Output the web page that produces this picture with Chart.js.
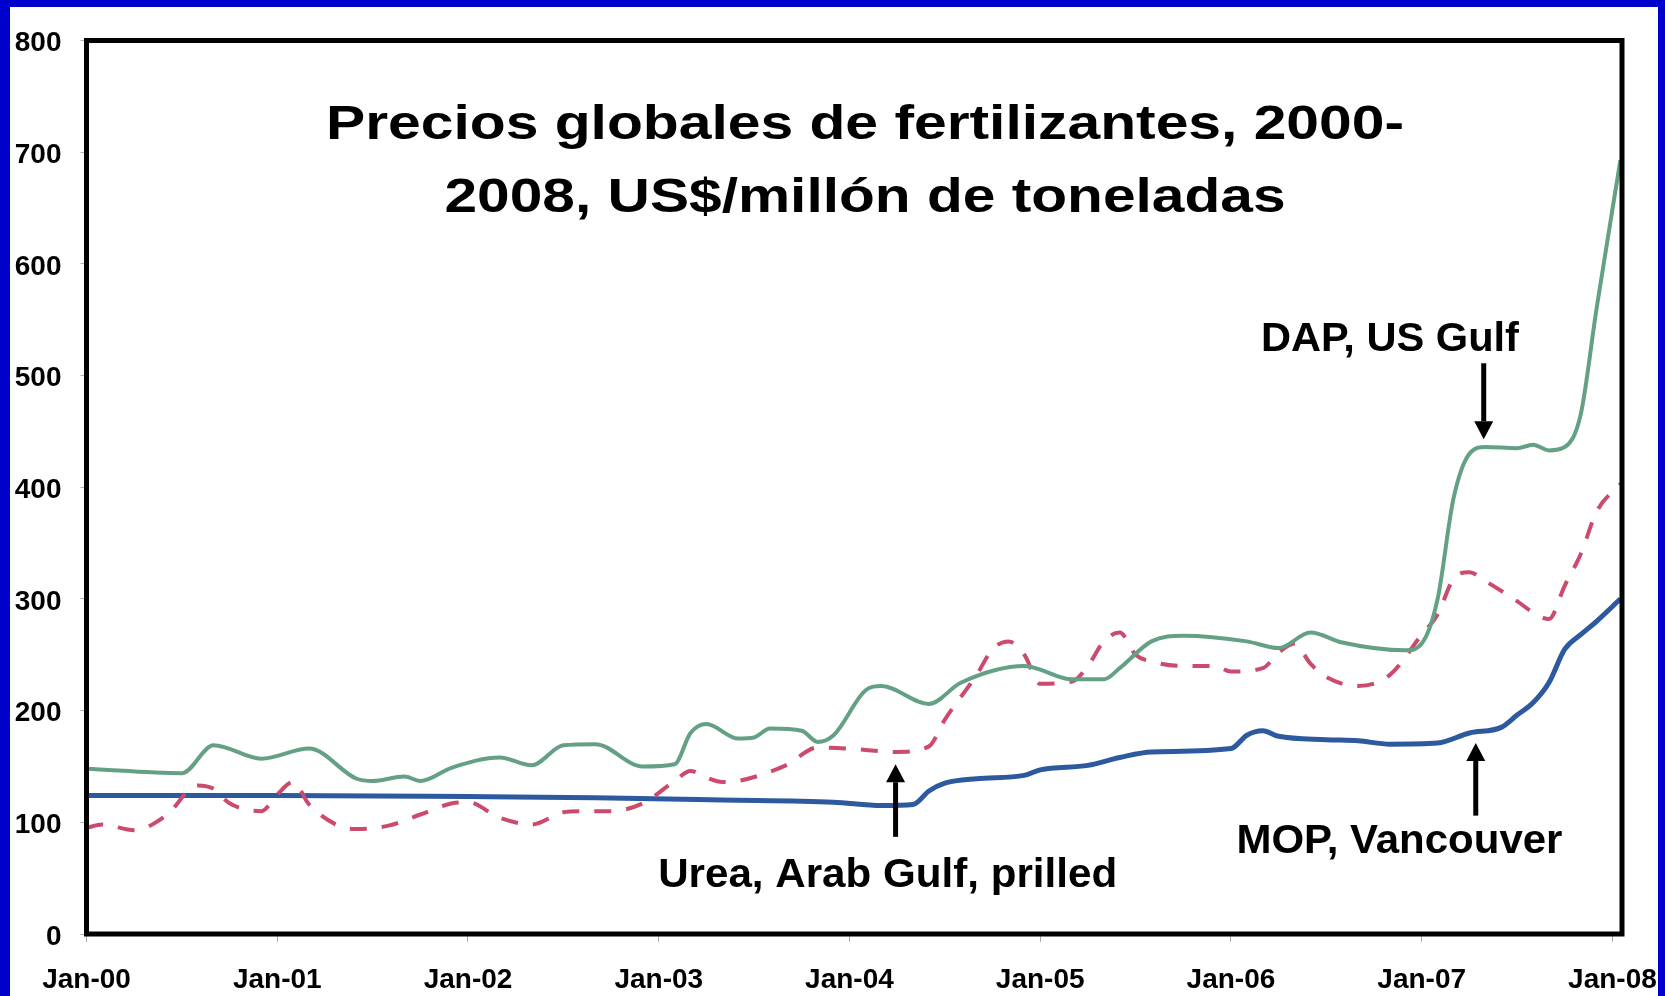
<!DOCTYPE html>
<html><head><meta charset="utf-8">
<script src="https://cdn.jsdelivr.net/npm/chart.js@4.4.1/dist/chart.umd.min.js"></script>
<style>html,body{margin:0;padding:0;background:#fff;overflow:hidden}#wrap{width:1665px;height:996px}canvas{display:block}</style>
</head><body><div id="wrap"><canvas id="c" width="1665" height="996"></canvas></div>
<script>
// ---- data (months since Jan-2000, US$ per tonne) ----
const tickMonths = [0, 12, 24, 36, 48, 60, 72, 84, 96];
const tickLabels = ['Jan-00', 'Jan-01', 'Jan-02', 'Jan-03', 'Jan-04', 'Jan-05', 'Jan-06', 'Jan-07', 'Jan-08'];
const yTicks = [0, 100, 200, 300, 400, 500, 600, 700, 800];

const dapMonths = [0, 6, 8, 11, 14, 17, 18, 20, 21, 23, 26, 28, 30, 32, 35, 37, 38, 39, 41, 42, 43, 45, 46, 47, 49, 50, 53, 55, 59, 62, 64, 65, 67, 69, 73, 75, 77, 79, 83, 84, 85, 86, 87, 88, 90, 91, 92, 93, 94, 95, 96.5];
const dapValues = [148, 144, 169, 157, 166, 139, 137, 141, 137, 149, 158, 151, 169, 170, 150, 152, 180, 188, 175, 176, 184, 182, 172, 178, 218, 222, 206, 225, 240, 228, 228, 238, 262, 267, 262, 256, 270, 261, 254, 260, 300, 390, 430, 436, 435, 438, 433, 436, 465, 560, 693];

const ureaMonths = [0, 1, 3, 5, 7, 8, 9, 11, 12, 13, 14, 16, 17, 19, 21, 23, 24, 26, 28, 30, 31, 33, 35, 37, 38, 39, 40, 41, 44, 46, 48, 51, 53, 54, 56, 57, 58, 59, 60, 62, 63, 64, 65, 66, 67, 69, 71, 72, 74, 75, 76, 77, 78, 80, 82, 84, 85, 86, 87, 88, 90, 91, 92, 93, 94, 95, 96.5];
const ureaValues = [95, 98, 93, 106, 133, 130, 117, 110, 125, 136, 116, 96, 94, 97, 107, 117, 118, 104, 98, 109, 110, 110, 117, 137, 146, 140, 136, 137, 151, 167, 166, 163, 168, 192, 232, 255, 262, 250, 224, 226, 240, 262, 270, 250, 244, 240, 240, 235, 238, 252, 260, 242, 230, 222, 232, 268, 286, 318, 324, 316, 298, 288, 282, 312, 340, 378, 403];

const mopMonths = [0, 12, 24, 32, 40, 47, 50, 52, 53, 54, 56, 59, 60, 63, 65, 67, 72, 73, 74, 75, 78, 80, 82, 85, 87, 89, 90, 91, 92, 93, 94, 95, 96.5];
const mopValues = [124, 124, 123, 122, 120, 118, 115, 116, 128, 135, 139, 142, 147, 151, 158, 163, 166, 178, 182, 177, 174, 173, 170, 171, 180, 185, 196, 207, 225, 255, 268, 280, 300];

const titleLines = ['Precios globales de fertilizantes, 2000-', '2008, US$/millón de toneladas'];
const annotations = [
  {text: 'DAP, US Gulf', tx: 82.0, ty: 522, w: 258, ax: 87.9, from: 511, to: 443},
  {text: 'Urea, Arab Gulf, prilled', tx: 50.4, ty: 42, w: 459, ax: 50.9, from: 87, to: 152},
  {text: 'MOP, Vancouver', tx: 82.6, ty: 72.6, w: 326, ax: 87.4, from: 106, to: 171}
];

const FONT = "'Liberation Sans', Arial, Helvetica, sans-serif";
const toXY = (ms, vs) => ms.map((m, i) => ({x: m, y: vs[i]}));

function fitText(ctx, text, cx, baseline, size, width) {
  ctx.save();
  ctx.font = 'bold ' + size + 'px ' + FONT;
  const natural = ctx.measureText(text).width;
  const sx = width / natural;
  ctx.translate(cx, baseline);
  ctx.scale(sx, 1);
  ctx.textAlign = 'center';
  ctx.textBaseline = 'alphabetic';
  ctx.fillStyle = '#000';
  ctx.fillText(text, 0, 0);
  ctx.restore();
}

function arrow(ctx, x, y0, y1) {
  const dir = y1 > y0 ? 1 : -1;
  const head = 18, half = 9.5;
  ctx.save();
  ctx.strokeStyle = '#000';
  ctx.fillStyle = '#000';
  ctx.lineWidth = 5;
  ctx.beginPath();
  ctx.moveTo(x, y0);
  ctx.lineTo(x, y1 - dir * head);
  ctx.stroke();
  ctx.beginPath();
  ctx.moveTo(x, y1);
  ctx.lineTo(x - half, y1 - dir * head);
  ctx.lineTo(x + half, y1 - dir * head);
  ctx.closePath();
  ctx.fill();
  ctx.restore();
}

const deco = {
  id: 'deco',
  beforeDraw(chart) {
    const c = chart.ctx;
    c.save();
    c.fillStyle = '#fff';
    c.fillRect(0, 0, chart.width, chart.height);
    c.restore();
  },
  afterDatasetsDraw(chart) {
    const c = chart.ctx, a = chart.chartArea;
    c.save();
    c.strokeStyle = '#000';
    c.lineWidth = 5;
    c.lineJoin = 'miter';
    c.strokeRect(a.left, a.top, a.right - a.left, a.bottom - a.top);
    c.restore();
  },
  afterDraw(chart) {
    const c = chart.ctx, xs = chart.scales.x, ys = chart.scales.y;
    fitText(c, titleLines[0], 865, 139, 48, 1078);
    fitText(c, titleLines[1], 865, 212, 48, 841);
    annotations.forEach(an => {
      fitText(c, an.text, xs.getPixelForValue(an.tx), ys.getPixelForValue(an.ty), 40, an.w);
      arrow(c, xs.getPixelForValue(an.ax), ys.getPixelForValue(an.from), ys.getPixelForValue(an.to));
    });
    c.save();
    c.fillStyle = '#0000cc';
    c.fillRect(0, 0, 10, chart.height);
    c.fillRect(0, 0, chart.width, 7);
    c.fillRect(chart.width - 7, 0, 7, chart.height);
    c.restore();
  }
};

const tickFont = {family: FONT, size: 28, weight: 'bold'};

new Chart(document.getElementById('c'), {
  type: 'line',
  data: {
    datasets: [
      {label: 'DAP, US Gulf', data: toXY(dapMonths, dapValues), borderColor: '#64a084', borderWidth: 4,
       cubicInterpolationMode: 'monotone', pointRadius: 0, borderJoinStyle: 'round'},
      {label: 'Urea, Arab Gulf, prilled', data: toXY(ureaMonths, ureaValues), borderColor: '#cc4a6c', borderWidth: 4,
       borderDash: [17, 15], cubicInterpolationMode: 'monotone', pointRadius: 0},
      {label: 'MOP, Vancouver', data: toXY(mopMonths, mopValues), borderColor: '#2d5a9e', borderWidth: 5,
       cubicInterpolationMode: 'monotone', pointRadius: 0, borderJoinStyle: 'round'}
    ]
  },
  options: {
    responsive: false, animation: false, devicePixelRatio: 1,
    layout: {padding: {left: 0, top: 40.5, right: 43, bottom: 0}},
    plugins: {legend: {display: false}, tooltip: {enabled: false}, title: {display: false}},
    scales: {
      x: {
        type: 'linear', min: 0, max: 96.6,
        afterBuildTicks: s => { s.ticks = tickMonths.map(v => ({value: v})); },
        afterFit: a => { a.height = 62; a.paddingLeft = 0; a.paddingRight = 0; },
        ticks: {callback: v => tickLabels[tickMonths.indexOf(v)], font: tickFont, color: '#000', padding: 21, maxRotation: 0, autoSkip: false},
        grid: {drawOnChartArea: false, drawTicks: true, tickLength: 8, color: '#aaaaaa'},
        border: {display: false}
      },
      y: {
        min: 0, max: 800,
        afterBuildTicks: s => { s.ticks = yTicks.map(v => ({value: v})); },
        afterFit: a => { a.width = 86.5; a.paddingTop = 0; a.paddingBottom = 0; },
        ticks: {callback: v => String(v), font: tickFont, color: '#000', padding: 19, labelOffset: 3},
        grid: {drawOnChartArea: false, drawTicks: true, tickLength: 6, color: '#aaaaaa'},
        border: {display: false}
      }
    }
  },
  plugins: [deco]
});
</script></body></html>
